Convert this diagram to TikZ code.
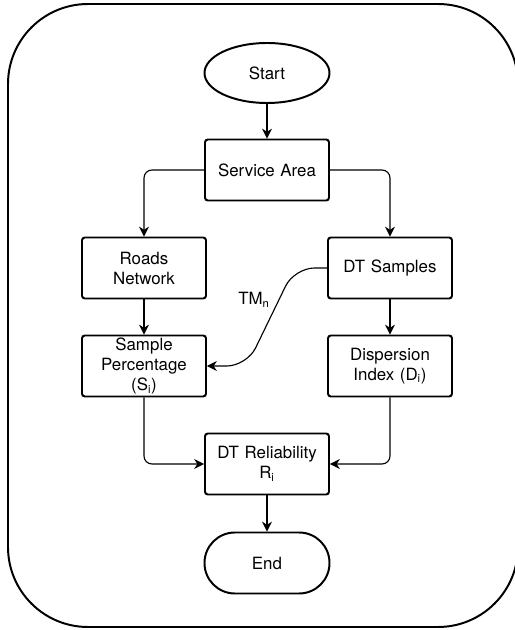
\documentclass[tikz,border=0pt]{standalone}
\usepackage{fontspec}
\setmainfont{TeX Gyre Heros}
\usepackage{tikz}
\usetikzlibrary{arrows.meta, positioning, shapes}

\begin{document}
\begin{tikzpicture}[
          font=\fontsize{12}{14.2}\selectfont,
          box/.style={draw,line width=1.4pt,rounded corners=2pt,minimum width=3.1cm,
                      minimum height=1.525cm,text width=2.9cm,align=center,inner sep=0pt},
          term/.style={draw,line width=1.4pt,ellipse,minimum width=3.125cm,minimum height=1.5cm,inner sep=0pt},
          endterm/.style={draw,line width=1.4pt,rounded corners=0.76cm,minimum width=3.125cm,
                      minimum height=1.525cm,inner sep=0pt},
          conn/.style={-{Stealth[length=7pt,width=7pt]},line width=0.8pt,rounded corners=0.2cm}]
        \useasboundingbox (0,0) rectangle (12.875,15.75);
        \draw[line width=1.4pt,rounded corners=2cm] (0.2,0.075) rectangle (12.95,15.65);
        \node[term](start) at (6.675,13.925){Start};
        \node[box](service) at (6.675,11.5){Service Area};
        \node[box](roads) at (3.6,9.05){Roads\\Network};
        \node[box](samples) at (9.75,9.05){DT Samples};
        \node[box](percent) at (3.6,6.6){Sample\\Percentage\\(S\textsubscript{i})};
        \node[box](disp) at (9.75,6.6){Dispersion\\Index (D\textsubscript{i})};
        \node[box](reliab) at (6.675,4.15){DT Reliability\\R\textsubscript{i}};
        \node[endterm](finish) at (6.675,1.675){End};
        \node(tmlabel) at (6.35,8.25){TM\textsubscript{n}};
        \draw[conn](start)--(service);
        \draw[conn](service.west)-|(roads.north);
        \draw[conn](service.east)-|(samples.north);
        \draw[conn](roads)--(percent);
        \draw[conn](samples)--(disp);
        \draw[conn,rounded corners=0.5cm](samples.west)--(7.36,9.05)--(6.17,6.6)--(percent.east);
        \draw[conn](percent.south)|-(reliab.west);
        \draw[conn](disp.south)|-(reliab.east);
        \draw[conn](reliab)--(finish);
      \end{tikzpicture}
\end{document}
